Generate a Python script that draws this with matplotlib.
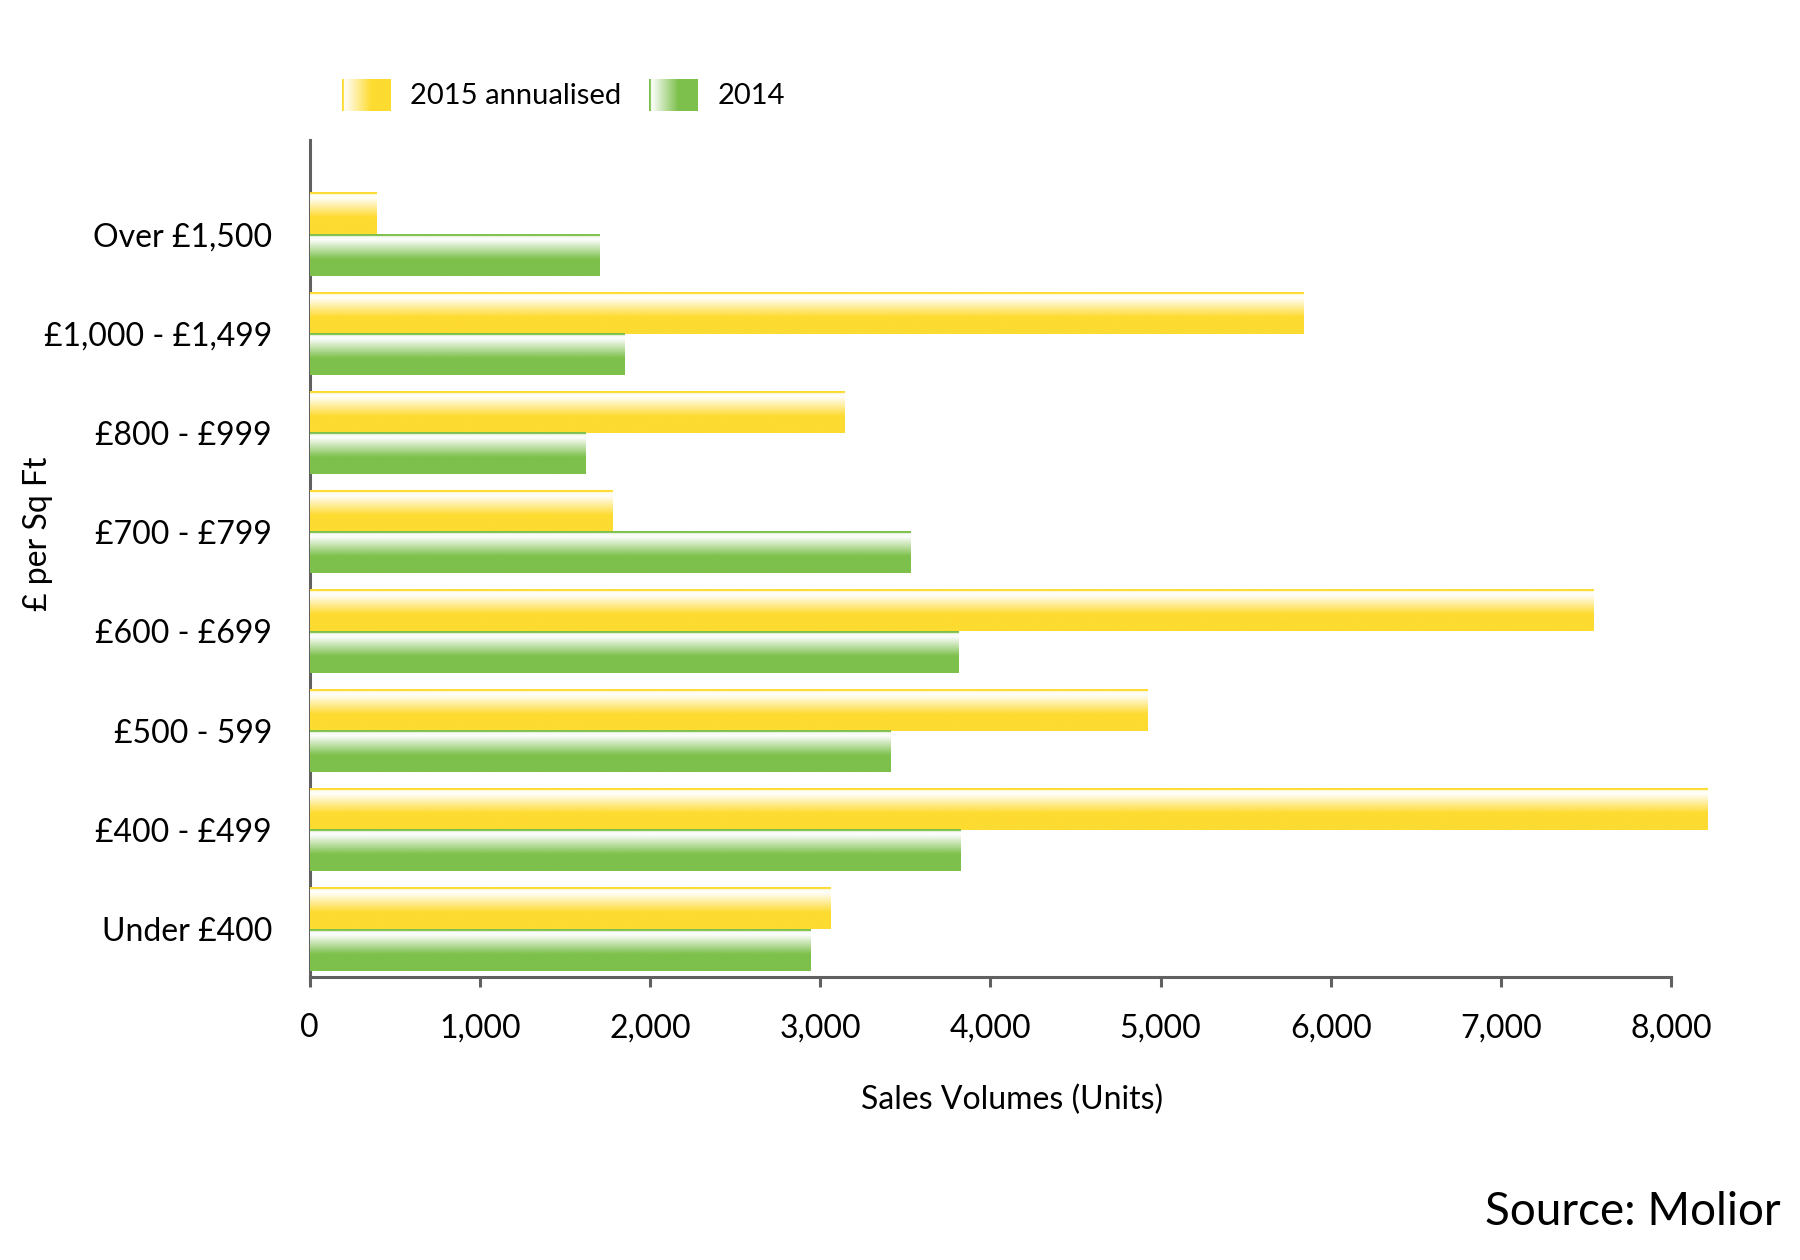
import numpy as np
import matplotlib
matplotlib.use('Agg')
import matplotlib.pyplot as plt
from matplotlib.colors import to_rgb

plt.rcParams['font.family'] = ['Lato', 'DejaVu Sans']

categories = ['Under £400', '£400 - £499', '£500 - 599', '£600 - £699',
              '£700 - £799', '£800 - £999', '£1,000 - £1,499', 'Over £1,500']
sales_2015 = [3060, 8210, 4920, 7540, 1780, 3140, 5840, 390]
sales_2014 = [2940, 3820, 3410, 3810, 3530, 1620, 1850, 1700]
x_ticks = [0, 1000, 2000, 3000, 4000, 5000, 6000, 7000, 8000]

yellow = '#FEDB30'
green = '#7DC04B'


def vgrad(color, n=100):
    # white highlight near the top of each bar, fading into the solid colour
    c = np.array(to_rgb(color))
    w = np.ones(3)
    rows = []
    for i in range(n):
        t = i / (n - 1)
        if t < 0.05:
            rows.append(c)
        elif t < 0.12:
            rows.append(w * 0.95 + c * 0.05)
        elif t < 0.6:
            f = (t - 0.12) / 0.48
            rows.append(w * (1 - f) + c * f)
        else:
            rows.append(c)
    return np.array(rows).reshape(n, 1, 3)


def hgrad(color, n=100):
    c = np.array(to_rgb(color))
    w = np.ones(3)
    cols = []
    for i in range(n):
        t = i / (n - 1)
        if t < 0.04:
            cols.append(c)
        elif t < 0.6:
            f = (t - 0.04) / 0.56
            cols.append(w * (1 - f) + c * f)
        else:
            cols.append(c)
    return np.array(cols).reshape(1, n, 3)


fig = plt.figure(figsize=(18, 12.6), dpi=100)
ax = fig.add_axes([0.172, 0.2246, 0.78, 0.6644])

y = np.arange(len(categories))
h = 0.416
b15 = ax.barh(y + h / 2, sales_2015, height=h, color=yellow, linewidth=0)
b14 = ax.barh(y - h / 2, sales_2014, height=h, color=green, linewidth=0)

for bars, col in [(b15, yellow), (b14, green)]:
    g = vgrad(col)
    for p in bars:
        x0, y0 = p.get_x(), p.get_y()
        ax.imshow(g, extent=(x0, x0 + p.get_width(), y0, y0 + p.get_height()),
                  origin='upper', aspect='auto', interpolation='bilinear', zorder=3)

ax.set_xlim(0, 8250)
ax.set_ylim(-0.48, 7.95)
ax.set_xticks(x_ticks)
ax.set_xticklabels([f'{v:,}' for v in x_ticks], fontsize=23)
ax.set_yticks(y)
ax.set_yticklabels(categories, fontsize=23)

for s in ['top', 'right']:
    ax.spines[s].set_visible(False)
for s in ['left', 'bottom']:
    ax.spines[s].set_color('#606060')
    ax.spines[s].set_linewidth(2.2)
ax.spines['bottom'].set_bounds(0, 8000)
ax.tick_params(axis='x', direction='out', length=7, width=2.2, color='#606060', pad=19)
ax.tick_params(axis='y', length=0, pad=27)

ax.set_xlabel('Sales Volumes (Units)', fontsize=23, labelpad=30)
fig.text(0.021, 0.576, '£ per Sq Ft', rotation=90, fontsize=23, ha='center', va='center')
fig.text(0.989, 0.038, 'Source: Molior', fontsize=33, ha='right', va='center')

# legend swatches with horizontal fade
for x0, col, label in [(0.19, yellow, '2015 annualised'), (0.3605, green, '2014')]:
    lax = fig.add_axes([x0, 0.912, 0.027, 0.025])
    lax.imshow(hgrad(col), aspect='auto', extent=(0, 1, 0, 1), interpolation='bilinear')
    lax.set_axis_off()
    fig.text(x0 + 0.038, 0.924, label, fontsize=21, ha='left', va='center')

fig.savefig('out.png', dpi=100, facecolor='white')
